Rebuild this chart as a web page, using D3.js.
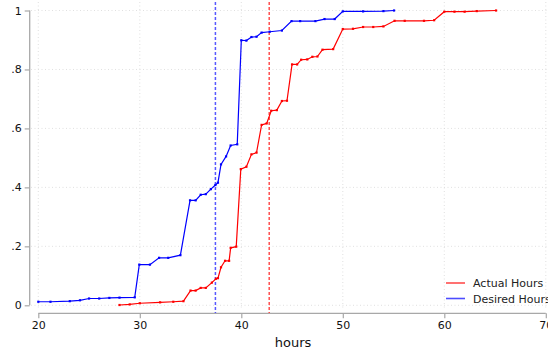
<!DOCTYPE html>
<html>
<head>
<meta charset="utf-8">
<script src="https://cdn.jsdelivr.net/npm/d3@7"></script>
<style>
  html, body { margin: 0; padding: 0; background: #fff; }
  svg { display: block; font-family: "DejaVu Sans", sans-serif; }
</style>
</head>
<body>
<div id="chart"></div>
<script>
// cumulative share of respondents by hours
const actualHours = [28, 29, 30, 32, 33.3, 34.3, 35, 35.5, 36, 36.5, 37.1, 37.5, 37.7, 38, 38.4, 38.8, 38.95, 39.5,
  39.95, 40.5, 41, 41.5, 42, 42.5, 42.95, 43.5, 44, 44.5, 45, 45.5, 45.9, 46.5, 47, 47.5, 48, 49.05,
  50, 51, 52, 53, 54, 55.1, 56.1, 58, 59, 60, 61, 62, 63.2, 65.1];
const actualCdf = [0.001, 0.003, 0.007, 0.01, 0.012, 0.014, 0.05, 0.05, 0.059, 0.059, 0.077, 0.09, 0.092, 0.129, 0.151, 0.151, 0.195, 0.199,
  0.462, 0.47, 0.512, 0.518, 0.612, 0.617, 0.66, 0.662, 0.693, 0.694, 0.817, 0.817, 0.833, 0.834, 0.843, 0.844, 0.867, 0.869,
  0.937, 0.938, 0.944, 0.944, 0.946, 0.965, 0.965, 0.965, 0.967, 0.996, 0.996, 0.996, 0.998, 1.0];

const desiredHours = [20, 21.2, 23.1, 24.1, 25, 26, 27, 28, 29.5, 29.95, 31, 31.9, 32.8, 34, 34.95, 35.5, 36, 36.5, 37, 37.45, 37.7,
  38, 38.5, 38.95, 39.6, 40, 40.5, 41, 41.5, 42, 42.8, 44, 44.95, 45.8, 47.3, 48.2, 49.2, 50, 52, 54, 55.05];
const desiredCdf = [0.012, 0.012, 0.014, 0.017, 0.023, 0.023, 0.025, 0.026, 0.027, 0.138, 0.138, 0.161, 0.161, 0.17, 0.356, 0.356, 0.375, 0.377, 0.394, 0.408, 0.416,
  0.478, 0.505, 0.542, 0.546, 0.899, 0.898, 0.91, 0.911, 0.925, 0.928, 0.932, 0.964, 0.964, 0.964, 0.971, 0.971, 0.997, 0.997, 0.998, 1.0];

const meanLines = [{ value: 37.45, color: "#3a3aff" }, { value: 42.75, color: "#ff3030" }];

const xTicks = [20, 30, 40, 50, 60, 70];
const yTicks = [0, 0.2, 0.4, 0.6, 0.8, 1];
const yTickLabels = ["0", ".2", ".4", ".6", ".8", "1"];

const series = [
  { name: "Actual Hours", color: "#ff0000", hours: actualHours, cdf: actualCdf },
  { name: "Desired Hours", color: "#0000ff", hours: desiredHours, cdf: desiredCdf }
];

const width = 548, height = 353;
const svg = d3.select("#chart").append("svg").attr("width", width).attr("height", height);

const x = d3.scaleLinear().domain([20, 70]).range([38.3, 545.8]);
const y = d3.scaleLinear().domain([0, 1]).range([305.3, 10.5]);

// gridlines
const grid = svg.append("g").attr("stroke", "#d8d8d8").attr("stroke-width", 0.8).attr("stroke-dasharray", "1,2.5");
grid.selectAll(".hg").data(yTicks).enter().append("line")
  .attr("x1", 31).attr("x2", width).attr("y1", d => y(d)).attr("y2", d => y(d));
grid.selectAll(".vg").data(xTicks).enter().append("line")
  .attr("y1", 2).attr("y2", 309).attr("x1", d => x(d)).attr("x2", d => x(d));

// y axis
const yAxis = svg.append("g").attr("transform", "translate(29.7,0)")
  .call(d3.axisLeft(y).tickValues(yTicks).tickFormat((d, i) => yTickLabels[i]).tickSize(5).tickPadding(3));
yAxis.select(".domain").attr("d", `M0,${y(1)}V${y(0)}`);

// x axis
const xAxis = svg.append("g").attr("transform", "translate(0,313.3)")
  .call(d3.axisBottom(x).tickValues(xTicks).tickSize(5).tickPadding(3));
xAxis.select(".domain").attr("d", `M${x(20)},0H${x(70)}`);

[yAxis, xAxis].forEach(a => {
  a.select(".domain").attr("stroke", "#a8a8a8").attr("stroke-width", 1.3);
  a.selectAll(".tick line").attr("stroke", "#a8a8a8").attr("stroke-width", 1.2);
  a.selectAll(".tick text").attr("fill", "#111").attr("font-size", 11).attr("font-family", "DejaVu Sans, sans-serif");
});

svg.append("text").attr("x", x(45) + 1).attr("y", 347).attr("text-anchor", "middle")
  .attr("font-size", 13).attr("fill", "#111").text("hours");

// dashed mean lines
svg.append("g").selectAll("line").data(meanLines).enter().append("line")
  .attr("x1", d => x(d.value)).attr("x2", d => x(d.value))
  .attr("y1", 2).attr("y2", 313)
  .style("stroke", d => d.color).attr("stroke-width", 1.5)
  .attr("stroke-opacity", 0.85)
  .attr("stroke-dasharray", "3,2");

// cdf lines
const line = d3.line().x(d => x(d[0])).y(d => y(d[1]));
series.forEach(s => {
  const pts = s.hours.map((h, i) => [h, s.cdf[i]]);
  const g = svg.append("g");
  g.append("path").datum(pts).attr("d", line)
    .attr("fill", "none").attr("stroke", s.color).attr("stroke-width", 1.2);
  g.selectAll("rect").data(pts).enter().append("rect")
    .attr("x", d => x(d[0]) - 1.1).attr("y", d => y(d[1]) - 1.1)
    .attr("width", 2.2).attr("height", 2.2).attr("fill", s.color);
});

// legend
const legend = svg.append("g").attr("transform", "translate(446,283)");
legend.selectAll("g").data(series).enter().append("g")
  .attr("transform", (d, i) => `translate(0,${i * 15.5})`)
  .each(function (d) {
    const g = d3.select(this);
    g.append("line").attr("x1", 0).attr("x2", 19).attr("y1", 0).attr("y2", 0)
      .attr("stroke", d.color).attr("stroke-opacity", 0.7).attr("stroke-width", 1.6);
    g.append("text").attr("x", 27).attr("y", 4).attr("font-size", 11).attr("fill", "#222").text(d.name);
  });
</script>
</body>
</html>
